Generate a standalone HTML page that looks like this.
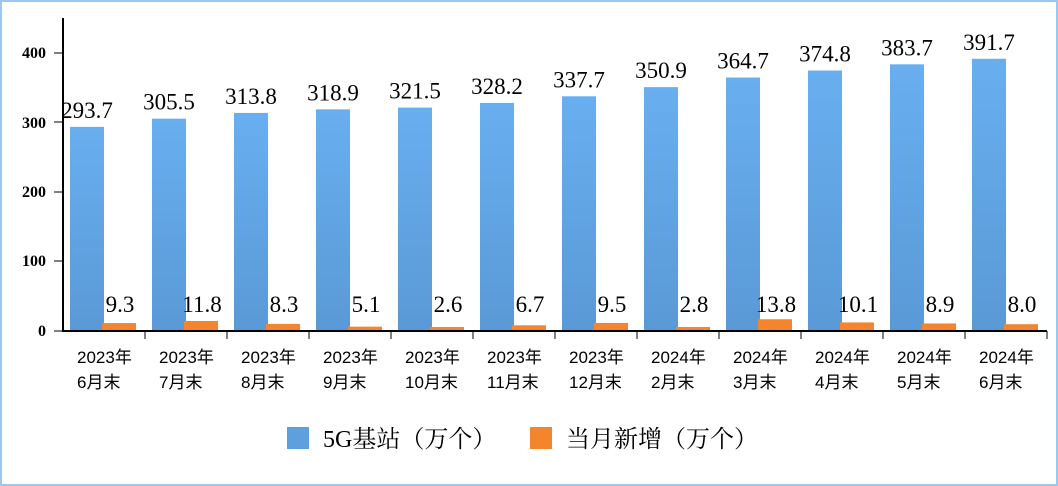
<!DOCTYPE html>
<html><head><meta charset="utf-8"><style>
body{margin:0;background:#fff}
svg{display:block}
</style></head><body>
<svg width="1058" height="486" xmlns="http://www.w3.org/2000/svg">
<defs><linearGradient id="b" x1="0" y1="0" x2="0" y2="1"><stop offset="0" stop-color="#68aff0"/><stop offset="1" stop-color="#5a99d6"/></linearGradient></defs>
<rect x="1" y="1" width="1056" height="484" fill="#fff" stroke="#9cc8f0" stroke-width="2"/>
<g id="g"></g>
<line x1="63" y1="18" x2="63" y2="331" stroke="#000" stroke-width="2"/>
<line x1="62" y1="331" x2="1047" y2="331" stroke="#000" stroke-width="2"/>
<g font-family="Liberation Serif, serif" font-weight="bold" font-size="16" text-anchor="end">
<text x="46" y="58">400</text><line x1="54" y1="53" x2="63" y2="53" stroke="#000"/>
<text x="46" y="128">300</text><line x1="54" y1="122" x2="63" y2="122" stroke="#000"/>
<text x="46" y="197">200</text><line x1="54" y1="192" x2="63" y2="192" stroke="#000"/>
<text x="46" y="266">100</text><line x1="54" y1="261" x2="63" y2="261" stroke="#000"/>
<text x="46" y="336">0</text><line x1="54" y1="331" x2="63" y2="331" stroke="#000"/>
</g>
<rect x="287" y="427" width="22" height="22" fill="#5e9fdd"/>
<text x="323" y="447" font-family="Liberation Serif, 'Noto Serif CJK SC', serif" font-size="24">5G基站（万个）</text>
<rect x="530" y="427" width="22" height="22" fill="#f5852c"/>
<text x="566" y="447" font-family="Liberation Serif, 'Noto Serif CJK SC', serif" font-size="24">当月新增（万个）</text>
</svg>
<script>
var d=[[293.7,9.3,"2023年","6月末"],[305.5,11.8,"2023年","7月末"],[313.8,8.3,"2023年","8月末"],[318.9,5.1,"2023年","9月末"],[321.5,2.6,"2023年","10月末"],[328.2,6.7,"2023年","11月末"],[337.7,9.5,"2023年","12月末"],[350.9,2.8,"2024年","2月末"],[364.7,13.8,"2024年","3月末"],[374.8,10.1,"2024年","4月末"],[383.7,8.9,"2024年","5月末"],[391.7,8.0,"2024年","6月末"]];
var s="";
d.forEach(function(r,i){var x0=63+82*i,h1=r[0]*0.695,h2=Math.max(r[1]*0.85,4);
s+='<rect x="'+(x0+7)+'" y="'+(331-h1)+'" width="34" height="'+h1+'" fill="url(#b)"/>';
s+='<rect x="'+(x0+39)+'" y="'+(331-h2)+'" width="34" height="'+h2+'" fill="#f5852c"/>';
s+='<text x="'+(x0+24)+'" y="'+(331-h1-9)+'" text-anchor="middle" font-family="Liberation Serif,serif" font-size="23">'+r[0].toFixed(1)+'</text>';
s+='<text x="'+(x0+57)+'" y="312" text-anchor="middle" font-family="Liberation Serif,serif" font-size="23">'+r[1].toFixed(1)+'</text>';
s+='<line x1="'+(x0+82)+'" y1="331" x2="'+(x0+82)+'" y2="339" stroke="#000"/>';
s+='<text x="'+(x0+14)+'" y="363" font-family="Liberation Sans,\'Noto Sans CJK SC\',sans-serif" font-size="17">'+r[2]+'</text>';
s+='<text x="'+(x0+14)+'" y="388" font-family="Liberation Sans,\'Noto Sans CJK SC\',sans-serif" font-size="17">'+r[3]+'</text>';});
document.getElementById("g").innerHTML=s;
</script>
</body></html>
